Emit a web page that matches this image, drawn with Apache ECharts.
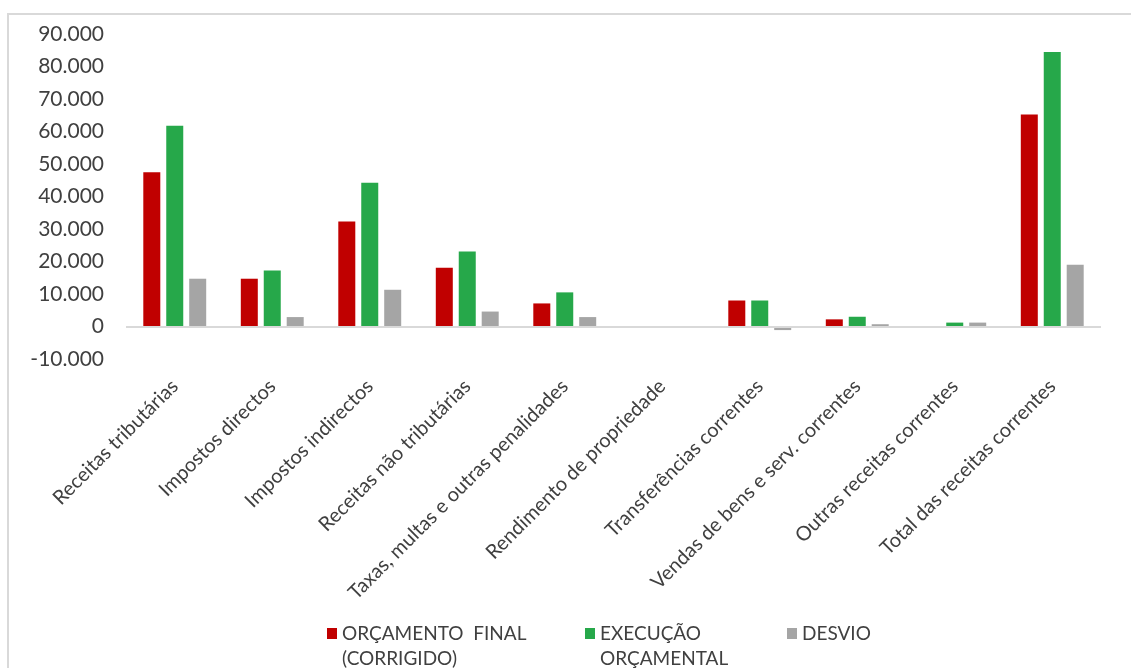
<!DOCTYPE html>
<html>
<head>
<meta charset="utf-8">
<script src="https://cdn.jsdelivr.net/npm/echarts@6/dist/echarts.min.js"></script>
<style>
  html, body { margin: 0; padding: 0; background: #ffffff; }
  #chart { width: 1131px; height: 668px; }
</style>
</head>
<body>
<div id="chart"></div>
<script>
// Categorias de receita
const categories = [
  'Receitas tributárias',
  'Impostos directos',
  'Impostos indirectos',
  'Receitas não tributárias',
  'Taxas, multas e outras penalidades',
  'Rendimento de propriedade',
  'Transferências correntes',
  'Vendas de bens e serv. correntes',
  'Outras receitas correntes',
  'Total das receitas correntes'
];

// Orçamento final (corrigido)
const orcamentoFinal = [47500, 14700, 32300, 18100, 7100, 0, 8000, 2200, 0, 65200];
// Execução orçamental
const execucao = [61800, 17200, 44200, 23100, 10500, 0, 8000, 3000, 1200, 84500];
// Desvio
const desvio = [14700, 2900, 11300, 4600, 2900, 0, -1100, 700, 1200, 19000];

const seriesNames = ['ORÇAMENTO FINAL (CORRIGIDO)', 'EXECUÇÃO ORÇAMENTAL', 'DESVIO'];
const legendLabels = ['ORÇAMENTO  FINAL\n(CORRIGIDO)', 'EXECUÇÃO\nORÇAMENTAL', 'DESVIO'];
const colors = ['#C00000', '#26A84A', '#A5A5A5'];

const FONT = 'Lato, "Open Sans", sans-serif';
const TEXT_COLOR = '#404040';

// Square marker drawn at the top of a taller icon box, so it sits beside
// the first line of a two-line legend label.
const TOP_SQUARE = 'path://M0,0H10V11H0Z M0,36L0.01,36';

function fmtThousands(v) {
  const neg = v < 0;
  const s = String(Math.abs(v)).replace(/\B(?=(\d{3})+(?!\d))/g, '.');
  return (neg ? '-' : '') + s;
}

const chart = echarts.init(document.getElementById('chart'), null, { renderer: 'canvas' });

const legendPos = [
  { left: 327, top: 621 },
  { left: 585, top: 621 },
  { left: 787, top: 621 }
];

const option = {
  backgroundColor: '#ffffff',
  animation: false,
  color: colors,
  graphic: [{
    type: 'rect',
    shape: { x: 8, y: 14, width: 1140, height: 700 },
    style: { fill: 'none', stroke: '#D9D9D9', lineWidth: 2 },
    silent: true,
    z: -10
  }],
  grid: { left: 126, right: 30, top: 34, bottom: 309, containLabel: false },
  legend: seriesNames.map((name, i) => ({
    data: [name],
    left: legendPos[i].left,
    top: legendPos[i].top,
    padding: 0,
    icon: i < 2 ? TOP_SQUARE : 'rect',
    itemWidth: 10,
    itemHeight: i < 2 ? 36 : 11,
    itemGap: 0,
    selectedMode: false,
    formatter: () => legendLabels[i],
    textStyle: {
      fontFamily: FONT,
      fontSize: 19,
      color: TEXT_COLOR,
      lineHeight: 25
    }
  })),
  xAxis: {
    type: 'category',
    data: categories,
    axisLine: { show: false, onZero: false },
    axisTick: { show: false },
    axisLabel: {
      rotate: 45,
      interval: 0,
      margin: 24,
      fontFamily: FONT,
      fontSize: 20,
      color: TEXT_COLOR
    }
  },
  yAxis: {
    type: 'value',
    min: -10000,
    max: 90000,
    interval: 10000,
    axisLine: { show: false },
    axisTick: { show: false },
    splitLine: { show: false },
    axisLabel: {
      margin: 22,
      fontFamily: FONT,
      fontSize: 21,
      color: TEXT_COLOR,
      formatter: fmtThousands
    }
  },
  series: [
    {
      name: seriesNames[0],
      type: 'bar',
      data: orcamentoFinal,
      barWidth: 17,
      barGap: '35%',
      itemStyle: { color: colors[0] },
      markLine: {
        silent: true,
        symbol: 'none',
        label: { show: false },
        lineStyle: { color: '#D9D9D9', width: 2, type: 'solid' },
        data: [{ yAxis: 0 }],
        z: 10
      }
    },
    {
      name: seriesNames[1],
      type: 'bar',
      data: execucao,
      barWidth: 17,
      barGap: '35%',
      itemStyle: { color: colors[1] }
    },
    {
      name: seriesNames[2],
      type: 'bar',
      data: desvio,
      barWidth: 17,
      barGap: '35%',
      itemStyle: { color: colors[2] }
    }
  ]
};

chart.setOption(option);
</script>
</body>
</html>
